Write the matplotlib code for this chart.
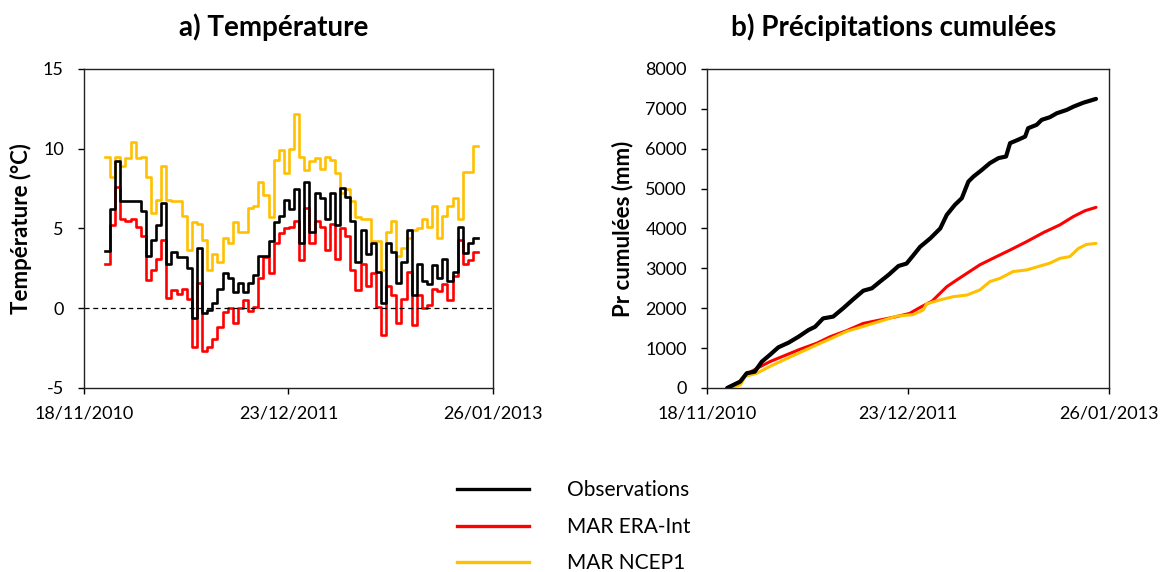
import numpy as np
import pandas as pd
import matplotlib
matplotlib.use("Agg")
import matplotlib.pyplot as plt
import matplotlib.dates as mdates
from matplotlib.lines import Line2D

plt.rcParams['font.family'] = ['Lato', 'DejaVu Sans']
plt.rcParams['axes.unicode_minus'] = False

# ============================================================
# DONNÉES
# ============================================================

# axe des dates (mêmes bornes pour les deux graphes)
date_min = "2010-11-18"
date_mid = "2011-12-23"
date_max = "2013-01-26"

# a) température moyenne par décade (°C), début le 29/12/2010
debut_decades = "2010-12-29"
temp_obs = [3.6, 6.2, 9.2, 6.7, 6.7, 6.7, 6.7, 6.1, 3.3, 4.3, 5.2, 6.6, 2.8, 3.5,
            3.2, 3.2, 2.5, -0.6, 3.8, -0.3, -0.1, 0.3, 1.2, 2.2, 1.9, 1.0, 1.6,
            1.0, 1.6, 2.1, 3.3, 3.3, 4.2, 5.4, 5.8, 6.8, 6.2, 7.5,
            4.1, 7.9, 4.8, 7.2, 6.9, 5.6, 7.2, 5.2, 7.55, 7.0, 5.5, 2.9, 4.9,
            3.4, 4.1, 2.3, 0.3, 4.1, 3.55, 1.6, 2.9, 4.9, 0.85, 2.8, 1.7, 1.5,
            2.7, 1.9, 3.1, 1.7, 2.3, 5.1, 3.45, 4.1, 4.4]
temp_era = [2.8, 5.2, 7.6, 5.6, 5.5, 5.6, 5.1, 4.5, 1.8, 2.4, 3.1, 4.3, 0.65, 1.15,
            0.9, 1.2, 0.6, -2.4, 1.6, -2.65, -2.4, -1.9, -1.2, -0.26, 0.0, -0.9,
            0.0, 0.5, -0.2, 0.1, 1.9, 3.2, 2.2, 4.1, 4.7, 5.0, 5.1, 5.5,
            3.0, 6.3, 4.1, 5.5, 5.1, 3.65, 5.3, 3.1, 5.0, 4.5, 2.4, 1.15, 2.8,
            1.4, 2.2, 0.1, -1.7, 1.4, 0.8, -0.9, 0.6, 2.3, -1.05, 0.8, 0.0, 0.2,
            1.2, 1.1, 1.5, 0.5, 2.0, 4.3, 2.8, 3.05, 3.55]
temp_ncep = [9.5, 8.2, 9.5, 8.9, 9.4, 10.4, 9.4, 9.5, 8.2, 6.0, 6.8, 8.9, 6.8, 6.7,
             6.7, 5.8, 3.65, 5.4, 5.3, 4.3, 2.4, 3.4, 2.9, 4.4, 4.1, 5.4, 4.8,
             4.8, 6.3, 6.4, 7.9, 7.1, 5.7, 9.3, 9.9, 8.45, 10.0, 12.2,
             9.5, 8.65, 9.2, 9.4, 8.7, 9.5, 9.3, 8.45, 7.2, 7.5, 6.7, 5.7, 5.6,
             5.6, 4.2, 4.2, 2.4, 4.8, 5.5, 3.3, 3.8, 4.4, 4.9, 5.0, 5.6, 5.1,
             6.4, 4.4, 5.8, 6.4, 6.9, 5.6, 8.55, 8.55, 10.2]

# b) précipitations cumulées (mm)
dates_obs = ["2010-12-28", "2011-01-23", "2011-02-05", "2011-02-21", "2011-03-07",
             "2011-03-23", "2011-04-09", "2011-04-29", "2011-05-19", "2011-06-08",
             "2011-06-21", "2011-07-07", "2011-07-27", "2011-08-16", "2011-09-05",
             "2011-09-25", "2011-10-12", "2011-10-28", "2011-11-14", "2011-12-04",
             "2011-12-20", "2012-01-02", "2012-01-16", "2012-02-05", "2012-02-25",
             "2012-03-09", "2012-03-25", "2012-04-08", "2012-04-21", "2012-05-01",
             "2012-05-18", "2012-06-03", "2012-06-20", "2012-07-05", "2012-07-13",
             "2012-07-29", "2012-08-12", "2012-08-18", "2012-09-04", "2012-09-14",
             "2012-09-30", "2012-10-14", "2012-11-03", "2012-11-16", "2012-12-06",
             "2012-12-31"]
pr_obs = [0, 160, 370, 410, 660, 830, 1020, 1135, 1285, 1455, 1535, 1745, 1790,
          2000, 2225, 2440, 2500, 2665, 2835, 3060, 3120, 3320, 3540, 3750, 4000,
          4340, 4590, 4760, 5175, 5300, 5470, 5640, 5765, 5805, 6140, 6225, 6305,
          6515, 6600, 6725, 6790, 6890, 6975, 7055, 7155, 7250]

dates_era = ["2010-12-28", "2011-01-23", "2011-02-02", "2011-02-25", "2011-03-23",
             "2011-04-19", "2011-05-22", "2011-06-24", "2011-07-21", "2011-08-23",
             "2011-09-25", "2011-10-28", "2011-11-30", "2011-12-26", "2012-01-16",
             "2012-02-09", "2012-03-09", "2012-03-29", "2012-04-18", "2012-05-14",
             "2012-06-16", "2012-07-13", "2012-08-15", "2012-09-17", "2012-10-20",
             "2012-11-16", "2012-12-09", "2012-12-31"]
pr_era = [0, 160, 325, 490, 660, 800, 970, 1120, 1285, 1440, 1620, 1705, 1790,
          1870, 2020, 2180, 2540, 2710, 2875, 3090, 3295, 3460, 3670, 3895, 4090,
          4300, 4445, 4530]

dates_ncep = ["2010-12-28", "2011-01-23", "2011-02-02", "2011-02-25", "2011-03-23",
              "2011-04-19", "2011-05-22", "2011-06-24", "2011-07-21", "2011-08-23",
              "2011-09-25", "2011-10-28", "2011-11-30", "2012-01-02", "2012-01-22",
              "2012-01-29", "2012-02-25", "2012-03-22", "2012-04-18", "2012-05-14",
              "2012-06-03", "2012-06-23", "2012-07-19", "2012-08-15", "2012-09-11",
              "2012-09-30", "2012-10-20", "2012-11-09", "2012-11-26", "2012-12-12",
              "2012-12-31"]
pr_ncep = [0, 75, 290, 370, 540, 700, 890, 1080, 1230, 1420, 1545, 1670, 1800,
           1840, 1955, 2110, 2210, 2290, 2330, 2460, 2670, 2750, 2920, 2960, 3060,
           3130, 3250, 3295, 3500, 3600, 3625]

noms = ["Observations", "MAR ERA-Int", "MAR NCEP1"]
couleurs = ["black", "#FF0000", "#FFC000"]

# ============================================================
# FIGURE
# ============================================================

fig = plt.figure(figsize=(11.6, 5.72), dpi=100)
ax1 = fig.add_axes([0.0724, 0.3217, 0.3526, 0.5577])
ax2 = fig.add_axes([0.6095, 0.3217, 0.3466, 0.5577])

x_min = mdates.datestr2num(date_min)
x_max = mdates.datestr2num(date_max)
x_ticks = [mdates.datestr2num(d) for d in (date_min, date_mid, date_max)]

# --- a) température, en marches décadaires
n = len(temp_obs)
bords = pd.date_range(debut_decades, periods=n + 1, freq="10D")
for serie, c in zip([temp_ncep, temp_era, temp_obs], couleurs[::-1]):
    y = list(serie) + [serie[-1]]
    ax1.plot(bords, y, drawstyle="steps-post", color=c, lw=1.9)

ax1.axhline(0, color="black", lw=0.9, ls=(0, (4, 3)))
ax1.set_ylim(-5, 15)
ax1.set_yticks([-5, 0, 5, 10, 15])
ax1.set_ylabel("Température (°C)", fontsize=16, fontweight="bold")
ax1.yaxis.set_label_coords(-0.127, 0.5)

# --- b) précipitations cumulées
for d, v, c, lw in [(dates_era, pr_era, couleurs[1], 2.2),
                    (dates_ncep, pr_ncep, couleurs[2], 2.2),
                    (dates_obs, pr_obs, couleurs[0], 3.0)]:
    ax2.plot(pd.to_datetime(d), v, color=c, lw=lw, solid_capstyle="round")

ax2.set_ylim(0, 8000)
ax2.set_yticks(np.arange(0, 8001, 1000))
ax2.set_ylabel("Pr cumulées (mm)", fontsize=16, fontweight="bold")
ax2.yaxis.set_label_coords(-0.184, 0.5)

for ax in (ax1, ax2):
    ax.set_xlim(x_min, x_max)
    ax.set_xticks(x_ticks)
    ax.xaxis.set_major_formatter(mdates.DateFormatter("%d/%m/%Y"))
    ax.tick_params(axis="both", direction="out", length=4.5, width=1,
                   labelsize=13, top=False, right=False)
    ax.tick_params(axis="x", pad=8)
    ax.tick_params(axis="y", pad=10)
    for s in ax.spines.values():
        s.set_linewidth(1.0)
        s.set_color("#222222")

fig.text(0.236, 0.953, "a) Température", ha="center", va="center",
         fontsize=20, fontweight="bold")
fig.text(0.770, 0.953, "b) Précipitations cumulées", ha="center", va="center",
         fontsize=20, fontweight="bold")

# --- légende commune
poignees = [Line2D([], [], color=c, lw=2.4) for c in couleurs]
fig.legend(poignees, noms, loc="center left", bbox_to_anchor=(0.378, 0.079),
           frameon=False, fontsize=15, handlelength=3.46, handletextpad=1.83,
           labelspacing=0.8)

fig.savefig("out.png", dpi=100)
